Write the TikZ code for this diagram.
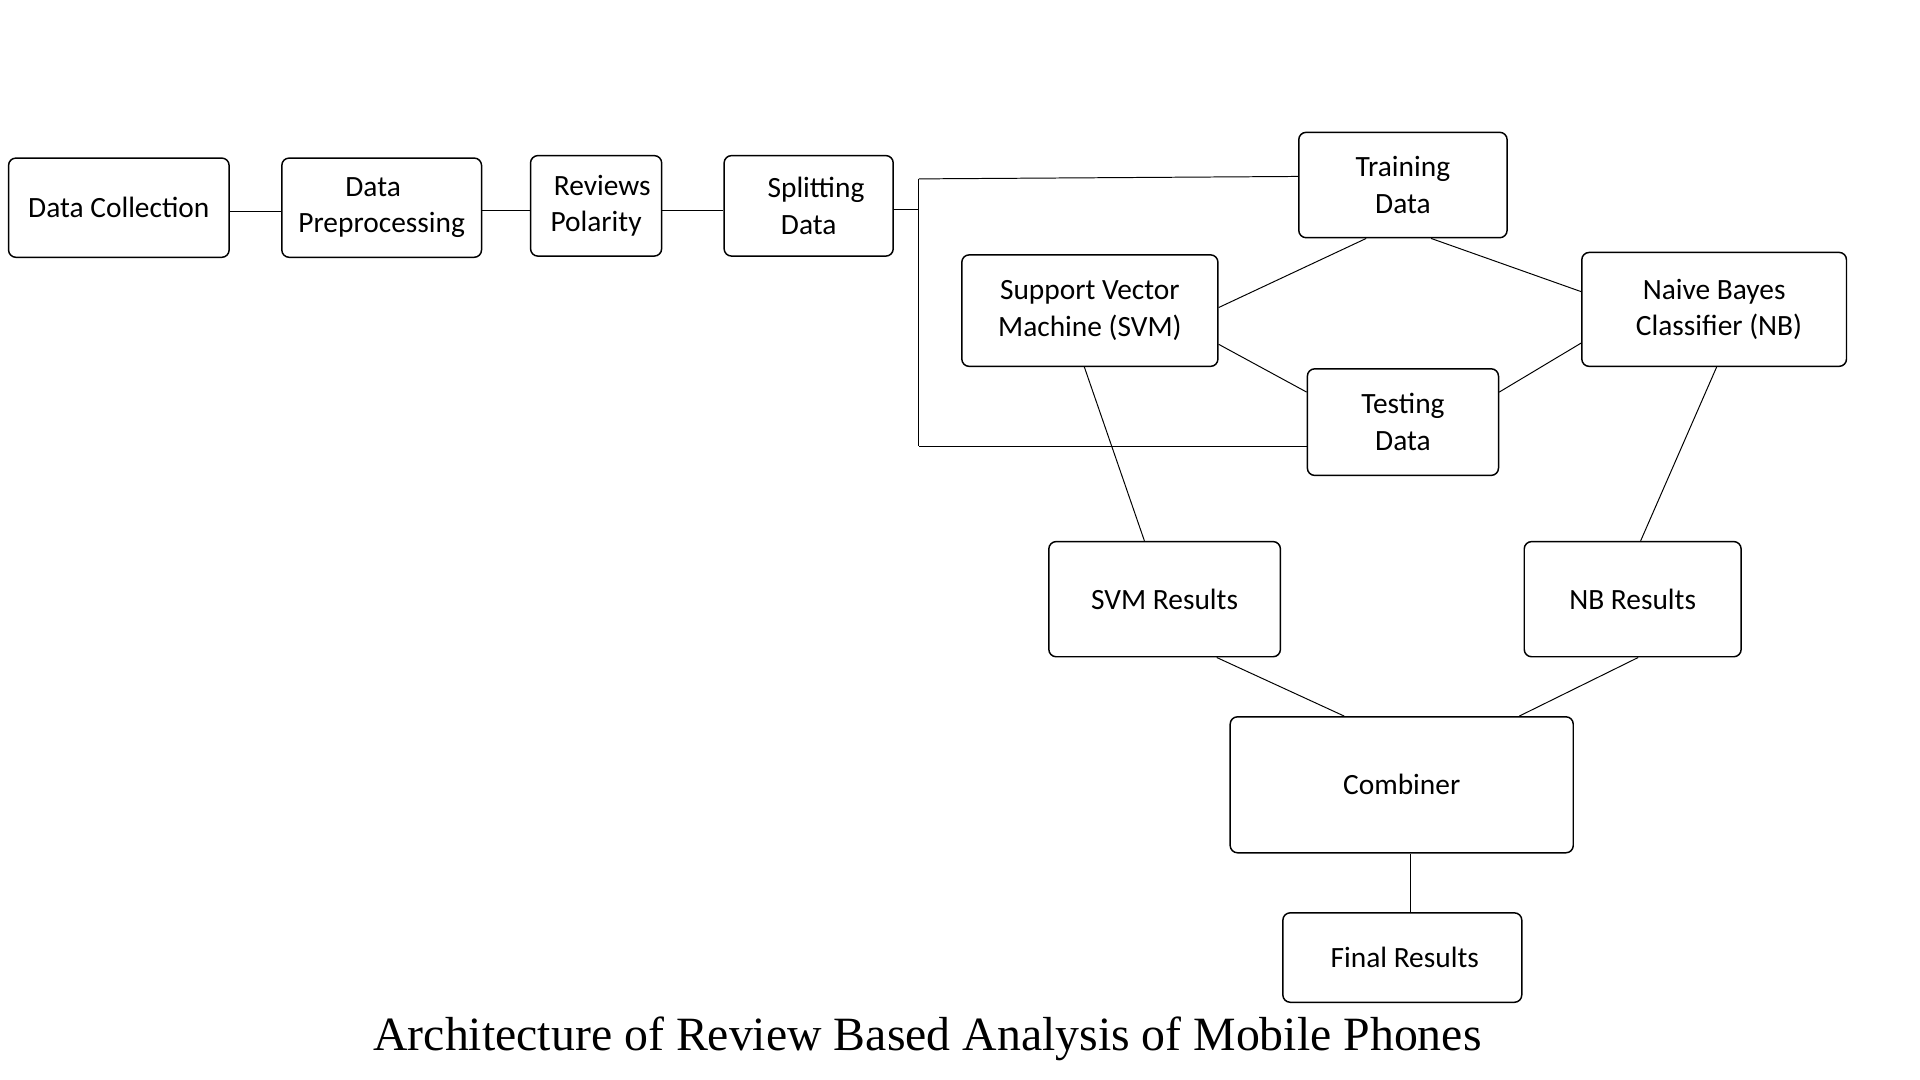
\documentclass[tikz,border=0pt]{standalone}
\usepackage{fontspec}
\setmainfont{Carlito}
\newfontfamily\titlefont{Liberation Serif}
\usetikzlibrary{calc}
\begin{document}
\begin{tikzpicture}[x=1pt,y=-1pt,
  box/.style={draw=black,line width=1.2pt,rounded corners=6pt,align=center,
    inner sep=0pt,font=\fontsize{24}{30}\selectfont,text=black},
  conn/.style={draw=black,line width=0.8pt}]
\useasboundingbox[fill=white] (0,0) rectangle (1567,881.4);
% boxes: center, width, height
\node[box,minimum width=180pt,minimum height=81pt] (dc) at (97,169.5) {Data Collection};
\node[box,minimum width=163pt,minimum height=81pt] (dp) at (311.5,169.5) {\hspace*{-14pt}Data\\Preprocessing};
\node[box,minimum width=107pt,minimum height=82pt] (rp) at (486.5,168) {\hspace*{10pt}Reviews\\Polarity};
\node[box,minimum width=138pt,minimum height=82pt] (sd) at (660,168) {\hspace*{12pt}Splitting\\Data};
\node[box,minimum width=170pt,minimum height=86pt] (tr) at (1145,151) {Training\\Data};
\node[box,minimum width=209pt,minimum height=91pt] (svm) at (889.5,253.5) {Support Vector\\Machine (SVM)};
\node[box,minimum width=216pt,minimum height=93pt] (nb) at (1399,252.5) {Naive Bayes\\\hspace*{8pt}Classifier (NB)};
\node[box,minimum width=156pt,minimum height=87pt] (te) at (1145,344.5) {Testing\\Data};
\node[box,minimum width=189pt,minimum height=94pt] (svr) at (950.5,489) {SVM Results};
\node[box,minimum width=177pt,minimum height=94pt] (nbr) at (1332.5,489) {NB Results};
\node[box,minimum width=280pt,minimum height=111pt] (cb) at (1144,640.5) {Combiner};
\node[box,minimum width=195pt,minimum height=73pt] (fr) at (1144.5,781.5) {\hspace*{4pt}Final Results};
% title
\node[font=\titlefont\fontsize{39}{44}\selectfont,text=black,inner sep=0pt] (title) at (757,848) {Architecture of Review Based Analysis of Mobile Phones};
% junction
\coordinate (jt) at (750,146);
\coordinate (jm) at (750,171);
\coordinate (jb) at (750,364);
% connectors
\draw[conn] ([yshift=-3.5pt]dc.east) -- ([yshift=-3.5pt]dp.west);
\draw[conn] ([yshift=-2.5pt]dp.east) -- ([yshift=-4pt]rp.west);
\draw[conn] ([yshift=-4pt]rp.east) -- ([yshift=-4pt]sd.west);
\draw[conn] ([yshift=-3pt]sd.east) -- (jm);
\draw[conn] (jt) -- (jb);
\draw[conn] (jt) -- ([yshift=7pt]tr.west);
\draw[conn] (jb) -- ([yshift=-19.5pt]te.west);
\draw[conn] ([xshift=-30pt]tr.south) -- ([yshift=2.5pt]svm.east);
\draw[conn] ([xshift=23pt]tr.south) -- ([yshift=14.5pt]nb.west);
\draw[conn] ([yshift=-27.5pt]svm.east) -- ([yshift=24.5pt]te.west);
\draw[conn] ([yshift=24.5pt]te.east) -- ([yshift=-27.5pt]nb.west);
\draw[conn] ([xshift=-4.5pt]svm.south) -- ([xshift=-16.5pt]svr.north);
\draw[conn] ([xshift=2pt]nb.south) -- ([xshift=6.5pt]nbr.north);
\draw[conn] ([xshift=42.5pt]svr.south) -- ([xshift=-47pt]cb.north);
\draw[conn] ([xshift=4.5pt]nbr.south) -- ([xshift=96pt]cb.north);
\draw[conn] ([xshift=7pt]cb.south) -- ([xshift=6.5pt]fr.north);
\end{tikzpicture}
\end{document}
